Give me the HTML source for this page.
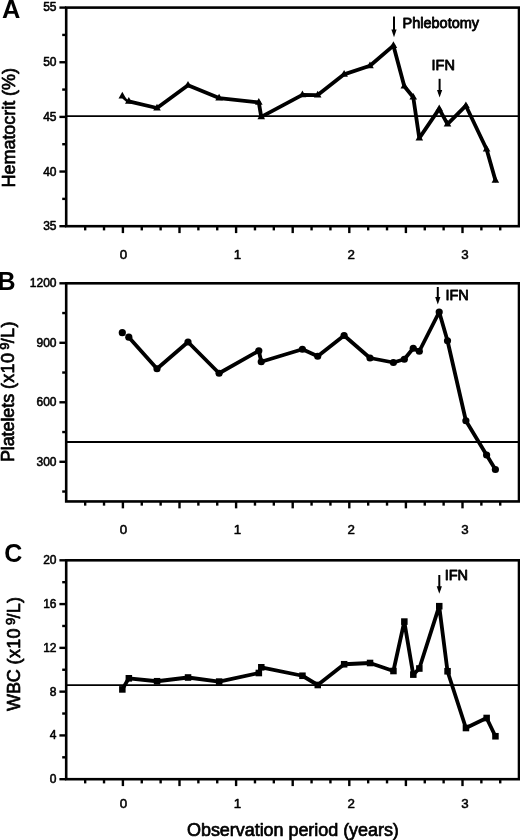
<!DOCTYPE html>
<html lang="en"><head><meta charset="utf-8"><title>Figure</title>
<style>html,body{margin:0;padding:0;background:#fff;}body{width:520px;height:840px;overflow:hidden;}svg{display:block;}text{font-family:'Liberation Sans', Arial, Helvetica, sans-serif;fill:#000;stroke:#000;stroke-width:0.55px;stroke-linejoin:round;}</style>
</head><body>
<svg width="520" height="840" viewBox="0 0 520 840">
<rect width="520" height="840" fill="#fff"/>
<g id="panelA">
<rect x="66.2" y="7.6" width="452.8" height="218.6" fill="none" stroke="#000" stroke-width="2.6"/>
<line x1="66.2" y1="7.60" x2="59.40" y2="7.60" stroke="#000" stroke-width="2.4"/>
<text x="56.5" y="10.80" text-anchor="end" font-size="12">55</text>
<line x1="66.2" y1="34.92" x2="62.20" y2="34.92" stroke="#000" stroke-width="2.4"/>
<line x1="66.2" y1="62.25" x2="59.40" y2="62.25" stroke="#000" stroke-width="2.4"/>
<text x="56.5" y="66.20" text-anchor="end" font-size="12">50</text>
<line x1="66.2" y1="89.57" x2="62.20" y2="89.57" stroke="#000" stroke-width="2.4"/>
<line x1="66.2" y1="116.90" x2="59.40" y2="116.90" stroke="#000" stroke-width="2.4"/>
<text x="56.5" y="120.85" text-anchor="end" font-size="12">45</text>
<line x1="66.2" y1="144.22" x2="62.20" y2="144.22" stroke="#000" stroke-width="2.4"/>
<line x1="66.2" y1="171.55" x2="59.40" y2="171.55" stroke="#000" stroke-width="2.4"/>
<text x="56.5" y="175.50" text-anchor="end" font-size="12">40</text>
<line x1="66.2" y1="198.88" x2="62.20" y2="198.88" stroke="#000" stroke-width="2.4"/>
<line x1="66.2" y1="226.20" x2="59.40" y2="226.20" stroke="#000" stroke-width="2.4"/>
<text x="56.5" y="230.15" text-anchor="end" font-size="12">35</text>
<line x1="85.17" y1="226.2" x2="85.17" y2="230.40" stroke="#000" stroke-width="2.4"/>
<line x1="104.03" y1="226.2" x2="104.03" y2="230.40" stroke="#000" stroke-width="2.4"/>
<line x1="122.90" y1="226.2" x2="122.90" y2="233.10" stroke="#000" stroke-width="2.4"/>
<line x1="141.77" y1="226.2" x2="141.77" y2="230.40" stroke="#000" stroke-width="2.4"/>
<line x1="160.63" y1="226.2" x2="160.63" y2="230.40" stroke="#000" stroke-width="2.4"/>
<line x1="179.50" y1="226.2" x2="179.50" y2="233.10" stroke="#000" stroke-width="2.4"/>
<line x1="198.37" y1="226.2" x2="198.37" y2="230.40" stroke="#000" stroke-width="2.4"/>
<line x1="217.23" y1="226.2" x2="217.23" y2="230.40" stroke="#000" stroke-width="2.4"/>
<line x1="236.10" y1="226.2" x2="236.10" y2="233.10" stroke="#000" stroke-width="2.4"/>
<line x1="254.97" y1="226.2" x2="254.97" y2="230.40" stroke="#000" stroke-width="2.4"/>
<line x1="273.83" y1="226.2" x2="273.83" y2="230.40" stroke="#000" stroke-width="2.4"/>
<line x1="292.70" y1="226.2" x2="292.70" y2="233.10" stroke="#000" stroke-width="2.4"/>
<line x1="311.57" y1="226.2" x2="311.57" y2="230.40" stroke="#000" stroke-width="2.4"/>
<line x1="330.43" y1="226.2" x2="330.43" y2="230.40" stroke="#000" stroke-width="2.4"/>
<line x1="349.30" y1="226.2" x2="349.30" y2="233.10" stroke="#000" stroke-width="2.4"/>
<line x1="368.17" y1="226.2" x2="368.17" y2="230.40" stroke="#000" stroke-width="2.4"/>
<line x1="387.03" y1="226.2" x2="387.03" y2="230.40" stroke="#000" stroke-width="2.4"/>
<line x1="405.90" y1="226.2" x2="405.90" y2="233.10" stroke="#000" stroke-width="2.4"/>
<line x1="424.77" y1="226.2" x2="424.77" y2="230.40" stroke="#000" stroke-width="2.4"/>
<line x1="443.63" y1="226.2" x2="443.63" y2="230.40" stroke="#000" stroke-width="2.4"/>
<line x1="462.50" y1="226.2" x2="462.50" y2="233.10" stroke="#000" stroke-width="2.4"/>
<line x1="481.37" y1="226.2" x2="481.37" y2="230.40" stroke="#000" stroke-width="2.4"/>
<line x1="500.23" y1="226.2" x2="500.23" y2="230.40" stroke="#000" stroke-width="2.4"/>
<text x="123.50" y="258.5" text-anchor="middle" font-size="13.3" >0</text>
<text x="237.35" y="258.5" text-anchor="middle" font-size="13.3" >1</text>
<text x="351.20" y="258.5" text-anchor="middle" font-size="13.3" >2</text>
<text x="465.05" y="258.5" text-anchor="middle" font-size="13.3" >3</text>
<line x1="66.2" y1="116.1" x2="519.0" y2="116.1" stroke="#000" stroke-width="1.8"/>
<polyline points="128.80,101.40 157.00,108.00 188.00,85.20 219.10,98.10 258.80,102.40 261.25,116.90 302.40,94.90 317.70,95.10 344.10,74.35 370.00,65.75 393.40,45.60 404.30,86.20 413.25,97.20 419.30,138.10 439.20,108.90 447.50,124.10 465.90,105.70 486.60,149.20 495.40,180.30" fill="none" stroke="#000" stroke-width="3.8" stroke-linejoin="round" stroke-linecap="round"/>
<line x1="123.2" y1="97.6" x2="128.4" y2="102.0" stroke="#000" stroke-width="2.6"/>
<polygon points="122.30,91.80 118.50,98.50 126.10,98.50" fill="#000"/>
<polygon points="128.80,97.10 125.00,103.80 132.60,103.80" fill="#000"/>
<polygon points="157.00,103.70 153.20,110.40 160.80,110.40" fill="#000"/>
<polygon points="188.00,80.90 184.20,87.60 191.80,87.60" fill="#000"/>
<polygon points="219.10,93.80 215.30,100.50 222.90,100.50" fill="#000"/>
<polygon points="258.80,98.10 255.00,104.80 262.60,104.80" fill="#000"/>
<polygon points="261.25,112.60 257.45,119.30 265.05,119.30" fill="#000"/>
<polygon points="302.40,90.60 298.60,97.30 306.20,97.30" fill="#000"/>
<polygon points="317.70,90.80 313.90,97.50 321.50,97.50" fill="#000"/>
<polygon points="344.10,70.05 340.30,76.75 347.90,76.75" fill="#000"/>
<polygon points="370.00,61.45 366.20,68.15 373.80,68.15" fill="#000"/>
<polygon points="393.40,41.30 389.60,48.00 397.20,48.00" fill="#000"/>
<polygon points="404.30,81.90 400.50,88.60 408.10,88.60" fill="#000"/>
<polygon points="413.25,92.90 409.45,99.60 417.05,99.60" fill="#000"/>
<polygon points="419.30,133.80 415.50,140.50 423.10,140.50" fill="#000"/>
<polygon points="439.20,104.60 435.40,111.30 443.00,111.30" fill="#000"/>
<polygon points="447.50,119.80 443.70,126.50 451.30,126.50" fill="#000"/>
<polygon points="465.90,101.40 462.10,108.10 469.70,108.10" fill="#000"/>
<polygon points="486.60,144.90 482.80,151.60 490.40,151.60" fill="#000"/>
<polygon points="495.40,176.00 491.60,182.70 499.20,182.70" fill="#000"/>
<line x1="394.0" y1="16.5" x2="394.0" y2="33.2" stroke="#000" stroke-width="2.0"/>
<polygon points="391.4,29.6 396.6,29.6 394.0,37.2" fill="#000"/>
<text x="402.5" y="28.4" font-size="14.5" style="stroke-width:0.8px">Phlebotomy</text>
<line x1="439.6" y1="78.8" x2="439.6" y2="93.6" stroke="#000" stroke-width="2.0"/>
<polygon points="437.0,90.0 442.20000000000005,90.0 439.6,97.6" fill="#000"/>
<text x="431.6" y="70.2" font-size="14.5" style="stroke-width:0.8px">IFN</text>
<text x="2.0" y="18" font-size="25.4" font-weight="bold" style="stroke:none">A</text>
<text transform="translate(14.8,187.4) rotate(-90)" font-size="18" style="stroke-width:0.7px" letter-spacing="-0.05">Hematocrit (%)</text>
</g>
<g id="panelB">
<rect x="66.2" y="283.3" width="452.8" height="218.14999999999998" fill="none" stroke="#000" stroke-width="2.6"/>
<line x1="66.2" y1="283.30" x2="59.40" y2="283.30" stroke="#000" stroke-width="2.4"/>
<text x="56.5" y="286.50" text-anchor="end" font-size="12">1200</text>
<line x1="66.2" y1="313.05" x2="62.20" y2="313.05" stroke="#000" stroke-width="2.4"/>
<line x1="66.2" y1="342.80" x2="59.40" y2="342.80" stroke="#000" stroke-width="2.4"/>
<text x="56.5" y="346.75" text-anchor="end" font-size="12">900</text>
<line x1="66.2" y1="372.54" x2="62.20" y2="372.54" stroke="#000" stroke-width="2.4"/>
<line x1="66.2" y1="402.29" x2="59.40" y2="402.29" stroke="#000" stroke-width="2.4"/>
<text x="56.5" y="406.24" text-anchor="end" font-size="12">600</text>
<line x1="66.2" y1="432.04" x2="62.20" y2="432.04" stroke="#000" stroke-width="2.4"/>
<line x1="66.2" y1="461.79" x2="59.40" y2="461.79" stroke="#000" stroke-width="2.4"/>
<text x="56.5" y="465.74" text-anchor="end" font-size="12">300</text>
<line x1="66.2" y1="491.53" x2="62.20" y2="491.53" stroke="#000" stroke-width="2.4"/>
<line x1="85.17" y1="501.45" x2="85.17" y2="505.65" stroke="#000" stroke-width="2.4"/>
<line x1="104.03" y1="501.45" x2="104.03" y2="505.65" stroke="#000" stroke-width="2.4"/>
<line x1="122.90" y1="501.45" x2="122.90" y2="508.35" stroke="#000" stroke-width="2.4"/>
<line x1="141.77" y1="501.45" x2="141.77" y2="505.65" stroke="#000" stroke-width="2.4"/>
<line x1="160.63" y1="501.45" x2="160.63" y2="505.65" stroke="#000" stroke-width="2.4"/>
<line x1="179.50" y1="501.45" x2="179.50" y2="508.35" stroke="#000" stroke-width="2.4"/>
<line x1="198.37" y1="501.45" x2="198.37" y2="505.65" stroke="#000" stroke-width="2.4"/>
<line x1="217.23" y1="501.45" x2="217.23" y2="505.65" stroke="#000" stroke-width="2.4"/>
<line x1="236.10" y1="501.45" x2="236.10" y2="508.35" stroke="#000" stroke-width="2.4"/>
<line x1="254.97" y1="501.45" x2="254.97" y2="505.65" stroke="#000" stroke-width="2.4"/>
<line x1="273.83" y1="501.45" x2="273.83" y2="505.65" stroke="#000" stroke-width="2.4"/>
<line x1="292.70" y1="501.45" x2="292.70" y2="508.35" stroke="#000" stroke-width="2.4"/>
<line x1="311.57" y1="501.45" x2="311.57" y2="505.65" stroke="#000" stroke-width="2.4"/>
<line x1="330.43" y1="501.45" x2="330.43" y2="505.65" stroke="#000" stroke-width="2.4"/>
<line x1="349.30" y1="501.45" x2="349.30" y2="508.35" stroke="#000" stroke-width="2.4"/>
<line x1="368.17" y1="501.45" x2="368.17" y2="505.65" stroke="#000" stroke-width="2.4"/>
<line x1="387.03" y1="501.45" x2="387.03" y2="505.65" stroke="#000" stroke-width="2.4"/>
<line x1="405.90" y1="501.45" x2="405.90" y2="508.35" stroke="#000" stroke-width="2.4"/>
<line x1="424.77" y1="501.45" x2="424.77" y2="505.65" stroke="#000" stroke-width="2.4"/>
<line x1="443.63" y1="501.45" x2="443.63" y2="505.65" stroke="#000" stroke-width="2.4"/>
<line x1="462.50" y1="501.45" x2="462.50" y2="508.35" stroke="#000" stroke-width="2.4"/>
<line x1="481.37" y1="501.45" x2="481.37" y2="505.65" stroke="#000" stroke-width="2.4"/>
<line x1="500.23" y1="501.45" x2="500.23" y2="505.65" stroke="#000" stroke-width="2.4"/>
<text x="123.50" y="533.8" text-anchor="middle" font-size="13.3" >0</text>
<text x="237.35" y="533.8" text-anchor="middle" font-size="13.3" >1</text>
<text x="351.20" y="533.8" text-anchor="middle" font-size="13.3" >2</text>
<text x="465.05" y="533.8" text-anchor="middle" font-size="13.3" >3</text>
<line x1="66.2" y1="442" x2="519.0" y2="442" stroke="#000" stroke-width="1.8"/>
<polyline points="128.80,337.20 157.00,368.75 188.00,342.00 219.10,373.25 258.80,350.75 261.25,361.75 302.40,349.25 317.70,356.25 344.10,335.50 370.00,358.00 393.40,362.50 404.30,359.25 413.25,348.25 419.30,351.25 439.20,312.00 447.50,340.75 465.90,420.75 486.60,455.00 495.40,469.50" fill="none" stroke="#000" stroke-width="3.8" stroke-linejoin="round" stroke-linecap="round"/>
<circle cx="122.30" cy="332.70" r="3.6" fill="#000"/>
<circle cx="128.80" cy="337.20" r="3.6" fill="#000"/>
<circle cx="157.00" cy="368.75" r="3.6" fill="#000"/>
<circle cx="188.00" cy="342.00" r="3.6" fill="#000"/>
<circle cx="219.10" cy="373.25" r="3.6" fill="#000"/>
<circle cx="258.80" cy="350.75" r="3.6" fill="#000"/>
<circle cx="261.25" cy="361.75" r="3.6" fill="#000"/>
<circle cx="302.40" cy="349.25" r="3.6" fill="#000"/>
<circle cx="317.70" cy="356.25" r="3.6" fill="#000"/>
<circle cx="344.10" cy="335.50" r="3.6" fill="#000"/>
<circle cx="370.00" cy="358.00" r="3.6" fill="#000"/>
<circle cx="393.40" cy="362.50" r="3.6" fill="#000"/>
<circle cx="404.30" cy="359.25" r="3.6" fill="#000"/>
<circle cx="413.25" cy="348.25" r="3.6" fill="#000"/>
<circle cx="419.30" cy="351.25" r="3.6" fill="#000"/>
<circle cx="439.20" cy="312.00" r="3.6" fill="#000"/>
<circle cx="447.50" cy="340.75" r="3.6" fill="#000"/>
<circle cx="465.90" cy="420.75" r="3.6" fill="#000"/>
<circle cx="486.60" cy="455.00" r="3.6" fill="#000"/>
<circle cx="495.40" cy="469.50" r="3.6" fill="#000"/>
<line x1="437.8" y1="287" x2="437.8" y2="300.6" stroke="#000" stroke-width="2.0"/>
<polygon points="435.2,297.0 440.40000000000003,297.0 437.8,304.6" fill="#000"/>
<text x="445.4" y="300.0" font-size="14.5" style="stroke-width:0.8px">IFN</text>
<text x="-2.6" y="289.8" font-size="25" font-weight="bold" style="stroke:none">B</text>
<text transform="translate(14.4,462.1) rotate(-90)" font-size="18" style="stroke-width:0.7px"><tspan letter-spacing="-0.1">Platelets </tspan><tspan letter-spacing="0.32">(x10</tspan><tspan dx="3.0" dy="-5" font-size="13" letter-spacing="0.3">9</tspan><tspan dy="5" dx="-1.0" letter-spacing="0.3">/L)</tspan></text>
</g>
<g id="panelC">
<rect x="66.2" y="560.3" width="452.8" height="218.9000000000001" fill="none" stroke="#000" stroke-width="2.6"/>
<line x1="66.2" y1="560.30" x2="59.40" y2="560.30" stroke="#000" stroke-width="2.4"/>
<text x="56.5" y="563.50" text-anchor="end" font-size="12">20</text>
<line x1="66.2" y1="582.19" x2="62.20" y2="582.19" stroke="#000" stroke-width="2.4"/>
<line x1="66.2" y1="604.08" x2="59.40" y2="604.08" stroke="#000" stroke-width="2.4"/>
<text x="56.5" y="608.03" text-anchor="end" font-size="12">16</text>
<line x1="66.2" y1="625.97" x2="62.20" y2="625.97" stroke="#000" stroke-width="2.4"/>
<line x1="66.2" y1="647.86" x2="59.40" y2="647.86" stroke="#000" stroke-width="2.4"/>
<text x="56.5" y="651.81" text-anchor="end" font-size="12">12</text>
<line x1="66.2" y1="669.75" x2="62.20" y2="669.75" stroke="#000" stroke-width="2.4"/>
<line x1="66.2" y1="691.64" x2="59.40" y2="691.64" stroke="#000" stroke-width="2.4"/>
<text x="56.5" y="695.59" text-anchor="end" font-size="12">8</text>
<line x1="66.2" y1="713.53" x2="62.20" y2="713.53" stroke="#000" stroke-width="2.4"/>
<line x1="66.2" y1="735.42" x2="59.40" y2="735.42" stroke="#000" stroke-width="2.4"/>
<text x="56.5" y="739.37" text-anchor="end" font-size="12">4</text>
<line x1="66.2" y1="757.31" x2="62.20" y2="757.31" stroke="#000" stroke-width="2.4"/>
<line x1="66.2" y1="779.20" x2="59.40" y2="779.20" stroke="#000" stroke-width="2.4"/>
<text x="56.5" y="783.15" text-anchor="end" font-size="12">0</text>
<line x1="85.17" y1="779.2" x2="85.17" y2="783.40" stroke="#000" stroke-width="2.4"/>
<line x1="104.03" y1="779.2" x2="104.03" y2="783.40" stroke="#000" stroke-width="2.4"/>
<line x1="122.90" y1="779.2" x2="122.90" y2="786.10" stroke="#000" stroke-width="2.4"/>
<line x1="141.77" y1="779.2" x2="141.77" y2="783.40" stroke="#000" stroke-width="2.4"/>
<line x1="160.63" y1="779.2" x2="160.63" y2="783.40" stroke="#000" stroke-width="2.4"/>
<line x1="179.50" y1="779.2" x2="179.50" y2="786.10" stroke="#000" stroke-width="2.4"/>
<line x1="198.37" y1="779.2" x2="198.37" y2="783.40" stroke="#000" stroke-width="2.4"/>
<line x1="217.23" y1="779.2" x2="217.23" y2="783.40" stroke="#000" stroke-width="2.4"/>
<line x1="236.10" y1="779.2" x2="236.10" y2="786.10" stroke="#000" stroke-width="2.4"/>
<line x1="254.97" y1="779.2" x2="254.97" y2="783.40" stroke="#000" stroke-width="2.4"/>
<line x1="273.83" y1="779.2" x2="273.83" y2="783.40" stroke="#000" stroke-width="2.4"/>
<line x1="292.70" y1="779.2" x2="292.70" y2="786.10" stroke="#000" stroke-width="2.4"/>
<line x1="311.57" y1="779.2" x2="311.57" y2="783.40" stroke="#000" stroke-width="2.4"/>
<line x1="330.43" y1="779.2" x2="330.43" y2="783.40" stroke="#000" stroke-width="2.4"/>
<line x1="349.30" y1="779.2" x2="349.30" y2="786.10" stroke="#000" stroke-width="2.4"/>
<line x1="368.17" y1="779.2" x2="368.17" y2="783.40" stroke="#000" stroke-width="2.4"/>
<line x1="387.03" y1="779.2" x2="387.03" y2="783.40" stroke="#000" stroke-width="2.4"/>
<line x1="405.90" y1="779.2" x2="405.90" y2="786.10" stroke="#000" stroke-width="2.4"/>
<line x1="424.77" y1="779.2" x2="424.77" y2="783.40" stroke="#000" stroke-width="2.4"/>
<line x1="443.63" y1="779.2" x2="443.63" y2="783.40" stroke="#000" stroke-width="2.4"/>
<line x1="462.50" y1="779.2" x2="462.50" y2="786.10" stroke="#000" stroke-width="2.4"/>
<line x1="481.37" y1="779.2" x2="481.37" y2="783.40" stroke="#000" stroke-width="2.4"/>
<line x1="500.23" y1="779.2" x2="500.23" y2="783.40" stroke="#000" stroke-width="2.4"/>
<text x="123.50" y="807.9" text-anchor="middle" font-size="13.3" >0</text>
<text x="237.35" y="807.9" text-anchor="middle" font-size="13.3" >1</text>
<text x="351.20" y="807.9" text-anchor="middle" font-size="13.3" >2</text>
<text x="465.05" y="807.9" text-anchor="middle" font-size="13.3" >3</text>
<line x1="66.2" y1="685.1" x2="519.0" y2="685.1" stroke="#000" stroke-width="1.8"/>
<polyline points="122.30,689.40 128.80,678.30 157.00,681.25 188.00,677.50 219.10,681.60 258.80,673.00 261.25,667.30 302.40,675.75 317.70,685.00 344.10,664.25 370.00,663.00 393.40,671.00 404.30,621.60 413.25,674.60 419.30,668.50 439.20,606.20 447.50,671.25 465.90,728.00 486.60,718.00 495.40,736.25" fill="none" stroke="#000" stroke-width="3.8" stroke-linejoin="round" stroke-linecap="round"/>
<rect x="119.10" y="686.10" width="6.5" height="6.6" fill="#000"/>
<rect x="125.60" y="675.00" width="6.5" height="6.6" fill="#000"/>
<rect x="153.80" y="677.95" width="6.5" height="6.6" fill="#000"/>
<rect x="184.80" y="674.20" width="6.5" height="6.6" fill="#000"/>
<rect x="215.90" y="678.30" width="6.5" height="6.6" fill="#000"/>
<rect x="255.60" y="669.70" width="6.5" height="6.6" fill="#000"/>
<rect x="258.05" y="664.00" width="6.5" height="6.6" fill="#000"/>
<rect x="299.20" y="672.45" width="6.5" height="6.6" fill="#000"/>
<rect x="314.50" y="681.70" width="6.5" height="6.6" fill="#000"/>
<rect x="340.90" y="660.95" width="6.5" height="6.6" fill="#000"/>
<rect x="366.80" y="659.70" width="6.5" height="6.6" fill="#000"/>
<rect x="390.20" y="667.70" width="6.5" height="6.6" fill="#000"/>
<rect x="401.10" y="618.30" width="6.5" height="6.6" fill="#000"/>
<rect x="410.05" y="671.30" width="6.5" height="6.6" fill="#000"/>
<rect x="416.10" y="665.20" width="6.5" height="6.6" fill="#000"/>
<rect x="436.00" y="602.90" width="6.5" height="6.6" fill="#000"/>
<rect x="444.30" y="667.95" width="6.5" height="6.6" fill="#000"/>
<rect x="462.70" y="724.70" width="6.5" height="6.6" fill="#000"/>
<rect x="483.40" y="714.70" width="6.5" height="6.6" fill="#000"/>
<rect x="492.20" y="732.95" width="6.5" height="6.6" fill="#000"/>
<line x1="439.3" y1="575" x2="439.3" y2="589.8" stroke="#000" stroke-width="2.0"/>
<polygon points="436.7,586.1999999999999 441.90000000000003,586.1999999999999 439.3,593.8" fill="#000"/>
<text x="444.7" y="579.8" font-size="14.5" style="stroke-width:0.8px">IFN</text>
<text x="4.2" y="562" font-size="25" font-weight="bold" style="stroke:none">C</text>
<text transform="translate(20.2,711) rotate(-90)" font-size="18" style="stroke-width:0.7px"><tspan letter-spacing="-0.1">WBC </tspan><tspan letter-spacing="0.32">(x10</tspan><tspan dx="3.0" dy="-5" font-size="13" letter-spacing="0.3">9</tspan><tspan dy="5" dx="-1.0" letter-spacing="0.3">/L)</tspan></text>
</g>
<text x="187" y="835.7" font-size="18" style="stroke-width:0.7px" letter-spacing="-0.05">Observation period (years)</text>
</svg>
</body></html>
